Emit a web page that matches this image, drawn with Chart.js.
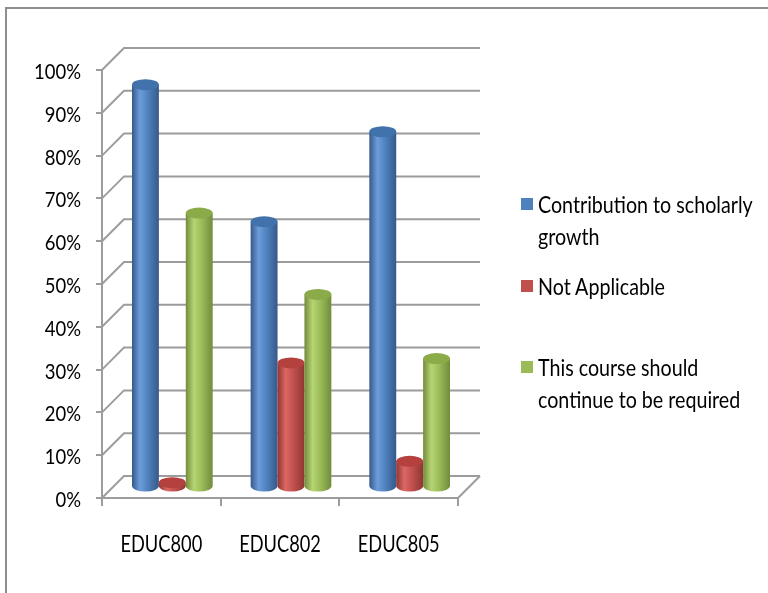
<!DOCTYPE html>
<html>
<head>
<meta charset="utf-8">
<script src="https://cdn.jsdelivr.net/npm/chart.js@4.4.1/dist/chart.umd.min.js"></script>
<style>
  html, body { margin: 0; padding: 0; background: #fff; }
  #wrap { position: relative; width: 768px; height: 593px; overflow: hidden; background: #fff; }
  #frame { position: absolute; left: 5px; top: 7px; width: 900px; height: 800px;
           border-top: 2px solid #8e8e8e; border-left: 2px solid #8e8e8e; }
  canvas { position: absolute; left: 0; top: 0; }
  #legend { position: absolute; left: 0; top: 0; width: 768px; height: 593px; pointer-events: none;
            font-family: Lato, 'Liberation Sans', sans-serif;
            font-size: 23px; line-height: 32px; color: #000; }
  .item { position: absolute; left: 521px; width: 245px; }
  .sw { position: absolute; left: 0; top: 10px; width: 12px; height: 12px; }
  .tx { position: absolute; left: 17px; top: 0; width: 252px; transform: scaleX(0.855); transform-origin: 0 0; }
</style>
</head>
<body>
<div id="wrap">
  <div id="frame"></div>
  <canvas id="c" width="768" height="593"></canvas>
  <div id="legend"></div>
</div>
<script>
const categories = ['EDUC800', 'EDUC802', 'EDUC805'];
const seriesNames = ['Contribution to scholarly growth', 'Not Applicable', 'This course should continue to be required'];
const contribution = [94, 62, 83];
const notApplicable = [1, 29, 6];
const requiredCourse = [64, 45, 30];
const yTicks = [0, 10, 20, 30, 40, 50, 60, 70, 80, 90, 100];

const colors = ['#4F81BD', '#C0504D', '#9BBB59'];
const shades = [
  { dark: '#36598a', light: '#6c9ddb', mid: '#4f81bd', top: '#4272ab' },
  { dark: '#8e3633', light: '#dc6763', mid: '#c0504d', top: '#b5413e' },
  { dark: '#728b3c', light: '#b6d472', mid: '#9bbb59', top: '#8aab48' }
];
const FONT = "Lato, 'Liberation Sans', sans-serif";
const DX = 22, DY = 22;

const threeD = {
  id: 'threeD',
  beforeDatasetsDraw(chart) {
    const ctx = chart.ctx;
    const ys = chart.scales.y;
    const L = chart.chartArea.left, R = chart.chartArea.right, B = chart.chartArea.bottom;
    ctx.save();
    ctx.strokeStyle = '#9c9c9c';
    ctx.lineWidth = 2;
    ys.ticks.forEach(t => {
      const py = ys.getPixelForValue(t.value);
      ctx.beginPath();
      ctx.moveTo(L, py);
      ctx.lineTo(L + DX, py - DY);
      ctx.lineTo(R + DX, py - DY);
      ctx.stroke();
    });
    ctx.beginPath();
    ctx.moveTo(R, B);
    ctx.lineTo(R + DX, B - DY);
    ctx.stroke();
    const hx = DX / 2, hy = DY / 2;
    chart.data.datasets.forEach((ds, di) => {
      const meta = chart.getDatasetMeta(di);
      const sh = shades[di];
      meta.data.forEach(el => {
        const p = el.getProps(['x', 'y', 'base', 'width'], true);
        const cx = p.x + hx, top = p.y - hy, bot = p.base - hy;
        const rx = p.width / 2, ry = 5.5;
        const g = ctx.createLinearGradient(cx - rx, 0, cx + rx, 0);
        g.addColorStop(0, sh.dark);
        g.addColorStop(0.3, sh.light);
        g.addColorStop(0.6, sh.mid);
        g.addColorStop(1, sh.dark);
        ctx.beginPath();
        ctx.moveTo(cx - rx, top);
        ctx.lineTo(cx - rx, bot);
        ctx.ellipse(cx, bot, rx, ry, 0, Math.PI, 0, true);
        ctx.lineTo(cx + rx, top);
        ctx.closePath();
        ctx.fillStyle = g;
        ctx.fill();
        ctx.beginPath();
        ctx.ellipse(cx, top, rx, ry, 0, 0, Math.PI * 2);
        ctx.fillStyle = sh.top;
        ctx.fill();
      });
    });
    ctx.restore();
    return false;
  },
  afterDraw(chart) {
    const ctx = chart.ctx;
    const xs = chart.scales.x, ys = chart.scales.y;
    ctx.save();
    ctx.fillStyle = '#000';
    ctx.textBaseline = 'alphabetic';
    ctx.font = '22px ' + FONT;
    ctx.textAlign = 'right';
    ys.ticks.forEach(t => {
      const py = ys.getPixelForValue(t.value);
      ctx.save();
      ctx.translate(81, py + 9);
      ctx.scale(0.84, 1);
      ctx.fillText(t.value + '%', 0, 0);
      ctx.restore();
    });
    ctx.font = '24px ' + FONT;
    ctx.textAlign = 'center';
    chart.data.labels.forEach((lab, i) => {
      const px = xs.getPixelForTick(i);
      ctx.save();
      ctx.translate(px, 552);
      ctx.scale(0.76, 1);
      ctx.fillText(lab, 0, 0);
      ctx.restore();
    });
    ctx.restore();
  }
};

const chart = new Chart(document.getElementById('c'), {
  type: 'bar',
  data: {
    labels: categories,
    datasets: [
      { label: seriesNames[0], data: contribution, backgroundColor: colors[0] },
      { label: seriesNames[1], data: notApplicable, backgroundColor: colors[1] },
      { label: seriesNames[2], data: requiredCourse, backgroundColor: colors[2] }
    ]
  },
  options: {
    responsive: false,
    animation: false,
    layout: { padding: { top: 70, right: 310, left: 0, bottom: 0 } },
    datasets: { bar: { categoryPercentage: 0.68, barPercentage: 1.0 } },
    plugins: { legend: { display: false }, tooltip: { enabled: false } },
    scales: {
      x: {
        grid: { display: true, drawOnChartArea: false, offset: true, tickLength: 8, color: '#9c9c9c', lineWidth: 2 },
        border: { display: true, color: '#9c9c9c', width: 2 },
        ticks: { display: false },
        afterFit(s) { s.height = 95; }
      },
      y: {
        min: 0, max: 100,
        afterBuildTicks(s) { s.ticks = yTicks.map(v => ({ value: v })); },
        grid: { display: true, drawOnChartArea: false, tickLength: 6, color: '#9c9c9c', lineWidth: 2 },
        border: { display: true, color: '#9c9c9c', width: 2 },
        ticks: { display: false },
        afterFit(s) { s.width = 102; }
      }
    }
  },
  plugins: [threeD]
});

const leg = document.getElementById('legend');
chart.data.datasets.forEach((ds, i) => {
  const item = document.createElement('div');
  item.className = 'item';
  item.style.top = (188 + i * 81.5) + 'px';
  const sw = document.createElement('div');
  sw.className = 'sw';
  sw.style.background = ds.backgroundColor;
  const tx = document.createElement('div');
  tx.className = 'tx';
  tx.textContent = ds.label;
  item.appendChild(sw);
  item.appendChild(tx);
  leg.appendChild(item);
});
</script>
</body>
</html>
